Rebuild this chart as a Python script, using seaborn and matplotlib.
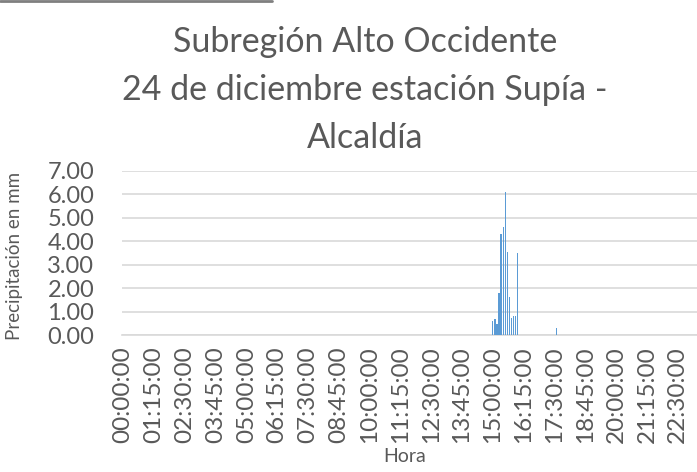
import seaborn as sns
import matplotlib.pyplot as plt
import pandas as pd
from matplotlib.lines import Line2D

# 5-minute intervals for the whole day
horas = ["%02d:%02d:00" % (m // 60, m % 60) for m in range(0, 24 * 60, 5)]

# precipitation (mm), 15:00 -> 16:00 and one reading at 17:35
lluvia_tarde = [0.60, 0.70, 0.48, 1.81, 4.30, 4.60, 6.10, 3.53, 1.61, 0.74, 0.80, 0.82, 3.49]
lluvia_1735 = [0.31]
precip = [0.0] * 180 + lluvia_tarde + [0.0] * 18 + lluvia_1735 + [0.0] * 76

titulo = "Subregión Alto Occidente\n24 de diciembre estación Supía -\nAlcaldía"
yticks = [0, 1, 2, 3, 4, 5, 6, 7]

df = pd.DataFrame({"Hora": horas, "mm": precip})

sns.set_style("white")
plt.rcParams["font.family"] = ["Lato", "DejaVu Sans"]
gris = "#595959"

fig = plt.figure(figsize=(6.97, 4.72), dpi=100)
# plot area runs past the right edge, like the cropped original
ax = fig.add_axes([0.175, 0.290, 0.849, 0.348])

sns.barplot(data=df, x="Hora", y="mm", color="#5B9BD5", width=0.6,
            saturation=1, linewidth=0, antialiased=False, ax=ax, zorder=3)

ax.set_ylim(0, 7)
ax.set_xlim(-0.5, len(horas) - 0.5)
ax.set_yticks(yticks)
ax.set_yticklabels(["%.2f" % v for v in yticks], fontsize=17, color=gris)
ax.set_xticks(range(0, 271, 15))
ax.set_xticklabels(horas[0:271:15], rotation=90, fontsize=17.5, color=gris)
ax.tick_params(axis="x", length=0, pad=8)
ax.tick_params(axis="y", length=0, pad=20)
ax.grid(axis="y", color="#D9D9D9", linewidth=1.2, zorder=0)
for s in ["top", "right", "left"]:
    ax.spines[s].set_visible(False)
ax.spines["bottom"].set_color("#D9D9D9")
ax.spines["bottom"].set_linewidth(1.2)

ax.set_xlabel("Hora", fontsize=14, color=gris)
ax.set_ylabel("Precipitación en mm", fontsize=13.5, color=gris)
ax.xaxis.set_label_coords(0.478, -0.69)
ax.yaxis.set_label_coords(-0.168, 0.48)

fig.text(0.524, 0.809, titulo, ha="center", va="center", fontsize=24.5,
         color=gris, linespacing=1.62)

# gray rule at the top-left edge of the original crop
fig.add_artist(Line2D([0, 0.39], [0.998, 0.998], color="#7F7F7F", linewidth=2))

fig.savefig("out.png", dpi=100)
